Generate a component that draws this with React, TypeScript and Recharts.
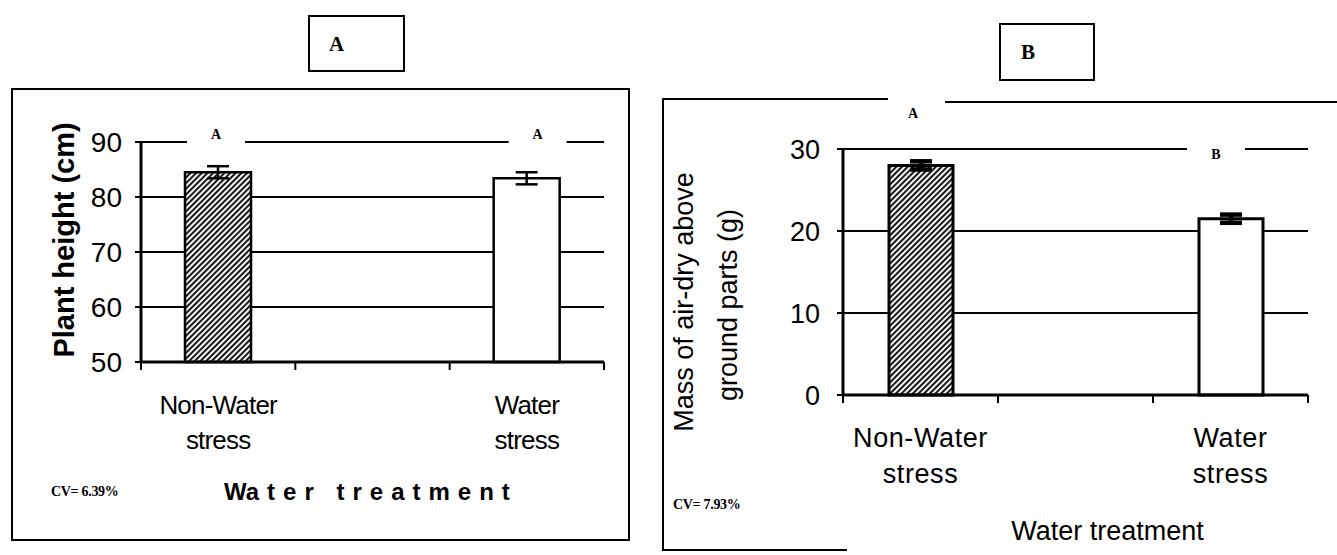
import React from 'react';
import { BarChart, Bar, XAxis, YAxis, CartesianGrid, ErrorBar, LabelList, Cell } from 'recharts';

// middle slot is empty in the original (spacer column between treatments)
const treatments = ['Non-Water\nstress', '', 'Water\nstress'];

const heightMeans = [84.5, null, 83.4];
const heightErrors = [1.1, null, 1.1];
const heightLetters = ['A', '', 'A'];
const heightTicks = [50, 60, 70, 80, 90];

const massMeans = [28.0, null, 21.5];
const massErrors = [0.5, null, 0.5];
const massLetters = ['A', '', 'B'];
const massTicks = [0, 10, 20, 30];

const heightRows = treatments.map((t, i) => ({
  treatment: t,
  mean: heightMeans[i],
  err: heightErrors[i]
}));

const massRows = treatments.map((t, i) => ({
  treatment: t,
  mean: massMeans[i],
  err: massErrors[i]
}));

const SANS = '"Liberation Sans", Arial, sans-serif';
const SERIF = '"Liberation Serif", "Times New Roman", serif';

function CategoryTick(props: any) {
  const { x, y, payload, index, visibleTicksCount, fontSize, letterSpacing, firstDy, lineGap } = props;
  const half = payload && payload.offset ? payload.offset : 77;
  const lines = String(payload.value).split('\n');
  const isLast = index === visibleTicksCount - 1;
  return (
    <g>
      <line x1={x - half} x2={x - half} y1={y} y2={y + 8} stroke="#000" strokeWidth={2} />
      {isLast && <line x1={x + half} x2={x + half} y1={y} y2={y + 8} stroke="#000" strokeWidth={2} />}
      {lines[0] !== '' && (
        <text
          x={x}
          y={y + firstDy}
          textAnchor="middle"
          fill="#000"
          style={{ fontFamily: SANS, fontSize, letterSpacing }}
        >
          {lines.map((l, i) => (
            <tspan key={i} x={x} dy={i === 0 ? 0 : lineGap}>
              {l}
            </tspan>
          ))}
        </text>
      )}
    </g>
  );
}

// significance letter above each bar; `value` is the treatment name
function SigLetter(props: any) {
  const { x, width, value, plotTop, letters, dys, dxs, gaps } = props;
  const i = treatments.indexOf(value);
  if (i < 0 || !letters[i]) return null;
  const cx = Number(x) + Number(width) / 2 + dxs[i];
  const cy = plotTop + dys[i];
  return (
    <g>
      {gaps[i] && <rect x={cx - 29} y={Math.min(cy - 8, plotTop - 6)} width={58} height={Math.abs(cy - plotTop) + 14} fill="#fff" />}
      <text
        x={cx}
        y={cy + 5}
        textAnchor="middle"
        fill="#000"
        style={{ fontFamily: SERIF, fontSize: 14, fontWeight: 'bold' }}
      >
        {letters[i]}
      </text>
    </g>
  );
}

function HatchDefs({ id }: { id: string }) {
  return (
    <defs>
      <pattern id={id} width="4" height="4" patternUnits="userSpaceOnUse" patternTransform="rotate(45)">
        <rect width="4" height="4" fill="#fff" />
        <line x1="1" y1="0" x2="1" y2="4" stroke="#1a1a1a" strokeWidth="2.2" />
      </pattern>
    </defs>
  );
}

function Box({ left, top, width, height, style }: any) {
  return (
    <div
      style={{
        position: 'absolute',
        left,
        top,
        width,
        height,
        boxSizing: 'border-box',
        ...style
      }}
    />
  );
}

function PlantHeightChart() {
  const top = 142;
  return (
    <BarChart
      width={640}
      height={555}
      data={heightRows}
      margin={{ top, right: 36, bottom: 133, left: 91 }}
      barSize={66}
    >
      <HatchDefs id="hatchA" />
      <CartesianGrid horizontal vertical={false} stroke="#000" strokeWidth={2} />
      <XAxis
        dataKey="treatment"
        interval={0}
        tickSize={0}
        tickMargin={0}
        axisLine={{ stroke: '#000', strokeWidth: 3 }}
        tickLine={false}
        height={60}
        tick={<CategoryTick fontSize={26} letterSpacing={-0.8} firstDy={52} lineGap={35} />}
        label={{
          content: (p: any) => {
            const vb = p.viewBox || { x: 141, y: 362, width: 463 };
            return (
              <text
                x={vb.x + 83}
                y={vb.y + 138}
                textAnchor="start"
                fill="#000"
                style={{ fontFamily: SANS, fontSize: 24, fontWeight: 'bold' }}
              >
                <tspan style={{ letterSpacing: 0 }}>Wa</tspan>
                <tspan dx={8} style={{ letterSpacing: 8 }}>ter treatment</tspan>
              </text>
            );
          }
        }}
      />
      <YAxis
        domain={[50, 90]}
        ticks={heightTicks}
        width={50}
        tickSize={6}
        tickMargin={13}
        axisLine={{ stroke: '#000', strokeWidth: 3 }}
        tickLine={{ stroke: '#000', strokeWidth: 2 }}
        tick={{ fill: '#000', fontFamily: SANS, fontSize: 28 }}
        label={{
          content: (p: any) => {
            const vb = p.viewBox || { x: 91, y: 142, width: 50, height: 220 };
            const cx = vb.x + vb.width - 77;
            const cy = vb.y + vb.height / 2 - 12;
            return (
              <text
                x={cx}
                y={cy}
                transform={`rotate(-90 ${cx} ${cy})`}
                textAnchor="middle"
                dominantBaseline="central"
                fill="#000"
                style={{ fontFamily: SANS, fontSize: 29, fontWeight: 'bold' }}
              >
                Plant height (cm)
              </text>
            );
          }
        }}
      />
      <YAxis
        yAxisId="frame"
        orientation="right"
        width={0}
        domain={[0, 1]}
        tick={false}
        tickLine={false}
        axisLine={{ stroke: '#000', strokeWidth: 3 }}
      />
      <Bar dataKey="mean" isAnimationActive={false} stroke="#000" strokeWidth={2.5} fill="#fff">
        {heightRows.map((r, i) => (
          <Cell key={i} fill={i === 0 ? 'url(#hatchA)' : '#fff'} />
        ))}
        <ErrorBar dataKey="err" width={11} stroke="#000" strokeWidth={2.5} isAnimationActive={false} />
        <LabelList
          dataKey="treatment"
          content={(p: any) => (
            <SigLetter
              {...p}
              plotTop={top}
              letters={heightLetters}
              dys={[-8, 0, -8]}
              dxs={[-2, 0, 11]}
              gaps={[true, false, true]}
            />
          )}
        />
      </Bar>
    </BarChart>
  );
}

function MassChart() {
  const top = 149;
  return (
    <BarChart
      width={677}
      height={555}
      data={massRows}
      margin={{ top, right: 29, bottom: 100, left: 123 }}
      barSize={64}
    >
      <HatchDefs id="hatchB" />
      <CartesianGrid horizontal vertical={false} stroke="#000" strokeWidth={2} />
      <XAxis
        dataKey="treatment"
        interval={0}
        tickSize={0}
        tickMargin={0}
        axisLine={{ stroke: '#000', strokeWidth: 3 }}
        tickLine={false}
        height={60}
        tick={<CategoryTick fontSize={27} letterSpacing={0.6} firstDy={52} lineGap={36} />}
        label={{
          content: (p: any) => {
            const vb = p.viewBox || { x: 183, y: 395, width: 465 };
            return (
              <text
                x={vb.x + vb.width / 2 + 32}
                y={vb.y + 145}
                textAnchor="middle"
                fill="#000"
                style={{ fontFamily: SANS, fontSize: 27 }}
              >
                Water treatment
              </text>
            );
          }
        }}
      />
      <YAxis
        domain={[0, 30]}
        ticks={massTicks}
        width={60}
        tickSize={6}
        tickMargin={17}
        axisLine={{ stroke: '#000', strokeWidth: 3 }}
        tickLine={{ stroke: '#000', strokeWidth: 2 }}
        tick={{ fill: '#000', fontFamily: SANS, fontSize: 27 }}
        label={{
          content: (p: any) => {
            const vb = p.viewBox || { x: 123, y: 149, width: 60, height: 246 };
            const px = vb.x + vb.width;
            const cy = vb.y + vb.height / 2 + 30;
            const x1 = px - 159;
            const x2 = px - 115;
            return (
              <g>
                <text
                  x={x1}
                  y={cy}
                  transform={`rotate(-90 ${x1} ${cy})`}
                  textAnchor="middle"
                  dominantBaseline="central"
                  fill="#000"
                  style={{ fontFamily: SANS, fontSize: 27 }}
                >
                  Mass of air-dry above
                </text>
                <text
                  x={x2}
                  y={cy + 3}
                  transform={`rotate(-90 ${x2} ${cy + 3})`}
                  textAnchor="middle"
                  dominantBaseline="central"
                  fill="#000"
                  style={{ fontFamily: SANS, fontSize: 27 }}
                >
                  ground parts (g)
                </text>
              </g>
            );
          }
        }}
      />
      <YAxis
        yAxisId="frame"
        orientation="right"
        width={0}
        domain={[0, 1]}
        tick={false}
        tickLine={false}
        axisLine={{ stroke: '#000', strokeWidth: 3 }}
      />
      <Bar dataKey="mean" isAnimationActive={false} stroke="#000" strokeWidth={3} fill="#fff">
        {massRows.map((r, i) => (
          <Cell key={i} fill={i === 0 ? 'url(#hatchB)' : '#fff'} />
        ))}
        <ErrorBar dataKey="err" width={11} stroke="#000" strokeWidth={4.5} isAnimationActive={false} />
        <LabelList
          dataKey="treatment"
          content={(p: any) => (
            <SigLetter
              {...p}
              plotTop={top}
              letters={massLetters}
              dys={[-36, 0, 5]}
              dxs={[-8, 0, -15]}
              gaps={[false, false, true]}
            />
          )}
        />
      </Bar>
    </BarChart>
  );
}

export default function App() {
  const line = { background: '#000' };
  const cv = { position: 'absolute' as const, fontFamily: SERIF, fontSize: 14, fontWeight: 'bold' as const, letterSpacing: -0.3 };
  return (
    <div
      style={{
        position: 'absolute',
        left: 0,
        top: 0,
        width: 1337,
        height: 555,
        background: '#fff',
        overflow: 'hidden'
      }}
    >
      {/* panel A frame */}
      <Box left={11} top={88} width={619} height={453} style={{ border: '2px solid #000' }} />
      <Box left={308} top={15} width={97} height={57} style={{ border: '2px solid #000' }} />
      <div
        style={{
          position: 'absolute',
          left: 329,
          top: 32,
          fontFamily: SERIF,
          fontWeight: 'bold',
          fontSize: 21,
          lineHeight: '24px'
        }}
      >
        A
      </div>
      <div style={{ ...cv, left: 51, top: 484 }}>CV= 6.39%</div>

      {/* panel B frame (cropped in the scan) */}
      <Box left={662} top={98} width={2} height={453} style={line} />
      <Box left={662} top={98} width={226} height={2} style={line} />
      <Box left={945} top={101} width={392} height={2} style={line} />
      <Box left={662} top={549} width={185} height={2} style={line} />
      <Box left={999} top={23} width={96} height={58} style={{ border: '2px solid #000' }} />
      <div
        style={{
          position: 'absolute',
          left: 1021,
          top: 40,
          fontFamily: SERIF,
          fontWeight: 'bold',
          fontSize: 21,
          lineHeight: '24px'
        }}
      >
        B
      </div>
      <div style={{ ...cv, left: 673, top: 497 }}>CV= 7.93%</div>

      <div style={{ position: 'absolute', left: 0, top: 0 }}>
        <PlantHeightChart />
      </div>
      <div style={{ position: 'absolute', left: 660, top: 0 }}>
        <MassChart />
      </div>
    </div>
  );
}
